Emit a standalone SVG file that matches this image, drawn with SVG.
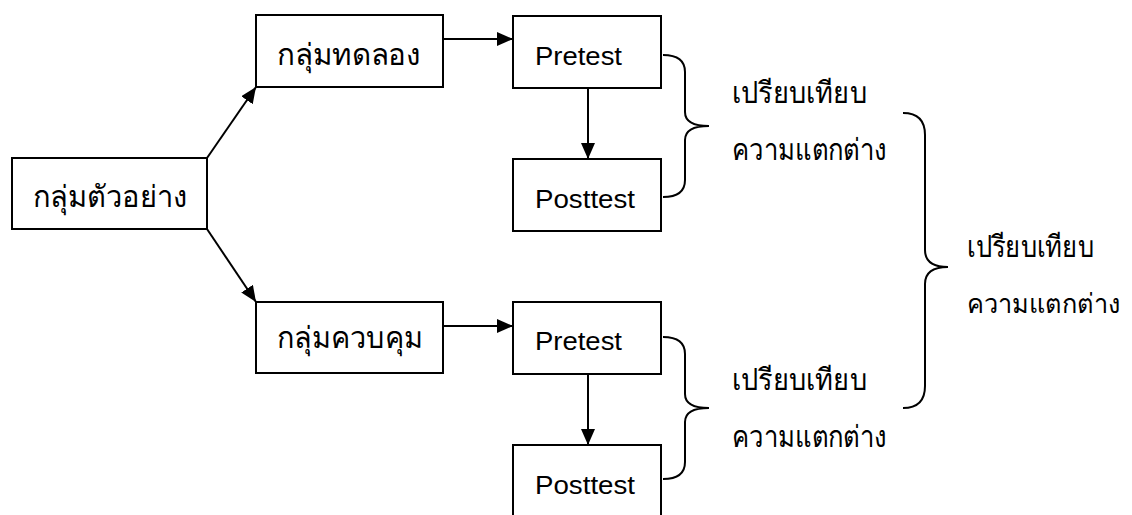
<svg xmlns="http://www.w3.org/2000/svg" width="1132" height="515" viewBox="0 0 1132 515">
<style>
.box{fill:#fff;stroke:#000;stroke-width:2}
.t{font-family:'Liberation Sans','Noto Sans','DejaVu Sans',sans-serif;font-size:26px;fill:#000}
.th{font-family:'Liberation Sans','Noto Sans','DejaVu Sans',sans-serif;font-size:30px;fill:#000}
.c{fill:none;stroke:#000;stroke-width:2}
</style>
<defs>
<marker id="ah" markerUnits="userSpaceOnUse" markerWidth="17" markerHeight="15" refX="16" refY="7" orient="auto">
<path d="M0,0 L16,7 L0,14 z" fill="#000"/>
</marker>
</defs>
<rect width="1132" height="515" fill="#fff"/>
<g id="connectors">
<line class="c" x1="207" y1="158" x2="256" y2="87" marker-end="url(#ah)"/>
<line class="c" x1="207" y1="229" x2="256" y2="302" marker-end="url(#ah)"/>
<line class="c" x1="443" y1="39" x2="513" y2="39" marker-end="url(#ah)"/>
<line class="c" x1="443" y1="326" x2="513" y2="326" marker-end="url(#ah)"/>
<line class="c" x1="588" y1="88" x2="588" y2="159" marker-end="url(#ah)"/>
<line class="c" x1="588" y1="374" x2="588" y2="445" marker-end="url(#ah)"/>
<path class="c" d="M663,55 Q685,55 685,72 L685,112 Q685,126 709,126 Q685,126 685,140 L685,180 Q685,197 663,197"/>
<path class="c" d="M663,337 Q685,337 685,354 L685,394 Q685,408 709,408 Q685,408 685,422 L685,462 Q685,479 663,479"/>
<path class="c" d="M903,113 Q925,113 925,135 L925,250 Q925,267 948,267 Q925,267 925,284 L925,386 Q925,408 903,408"/>
</g>
<g id="sample">
<rect class="box" x="12" y="158" width="195" height="71"/>
<text class="th" x="33" y="207" textLength="155" lengthAdjust="spacingAndGlyphs">กลุ่มตัวอย่าง</text>
</g>
<g id="experimental">
<rect class="box" x="256" y="15" width="187" height="72"/>
<text class="th" x="277" y="65" textLength="144" lengthAdjust="spacingAndGlyphs">กลุ่มทดลอง</text>
</g>
<g id="control">
<rect class="box" x="256" y="302" width="187" height="71"/>
<text class="th" x="277" y="348" textLength="146" lengthAdjust="spacingAndGlyphs">กลุ่มควบคุม</text>
</g>
<g id="pretest1">
<rect class="box" x="513" y="16" width="148" height="72"/>
<text class="t" x="535" y="65" textLength="87" lengthAdjust="spacingAndGlyphs">Pretest</text>
</g>
<g id="posttest1">
<rect class="box" x="513" y="159" width="148" height="72"/>
<text class="t" x="535" y="208" textLength="100" lengthAdjust="spacingAndGlyphs">Posttest</text>
</g>
<g id="pretest2">
<rect class="box" x="513" y="302" width="148" height="72"/>
<text class="t" x="535" y="350" textLength="87" lengthAdjust="spacingAndGlyphs">Pretest</text>
</g>
<g id="posttest2">
<rect class="box" x="513" y="445" width="148" height="80"/>
<text class="t" x="535" y="494" textLength="100" lengthAdjust="spacingAndGlyphs">Posttest</text>
</g>
<g id="compare1">
<text class="th" x="732" y="103" textLength="135" lengthAdjust="spacingAndGlyphs">เปรียบเทียบ</text>
<text class="th" x="732" y="160" textLength="155" lengthAdjust="spacingAndGlyphs">ความแตกต่าง</text>
</g>
<g id="compare2">
<text class="th" x="732" y="390" textLength="135" lengthAdjust="spacingAndGlyphs">เปรียบเทียบ</text>
<text class="th" x="732" y="447" textLength="155" lengthAdjust="spacingAndGlyphs">ความแตกต่าง</text>
</g>
<g id="compare3">
<text class="th" x="967" y="257" textLength="127" lengthAdjust="spacingAndGlyphs">เปรียบเทียบ</text>
<text class="th" x="967" y="313" style="font-size:27px" textLength="153" lengthAdjust="spacingAndGlyphs">ความแตกต่าง</text>
</g>
</svg>
